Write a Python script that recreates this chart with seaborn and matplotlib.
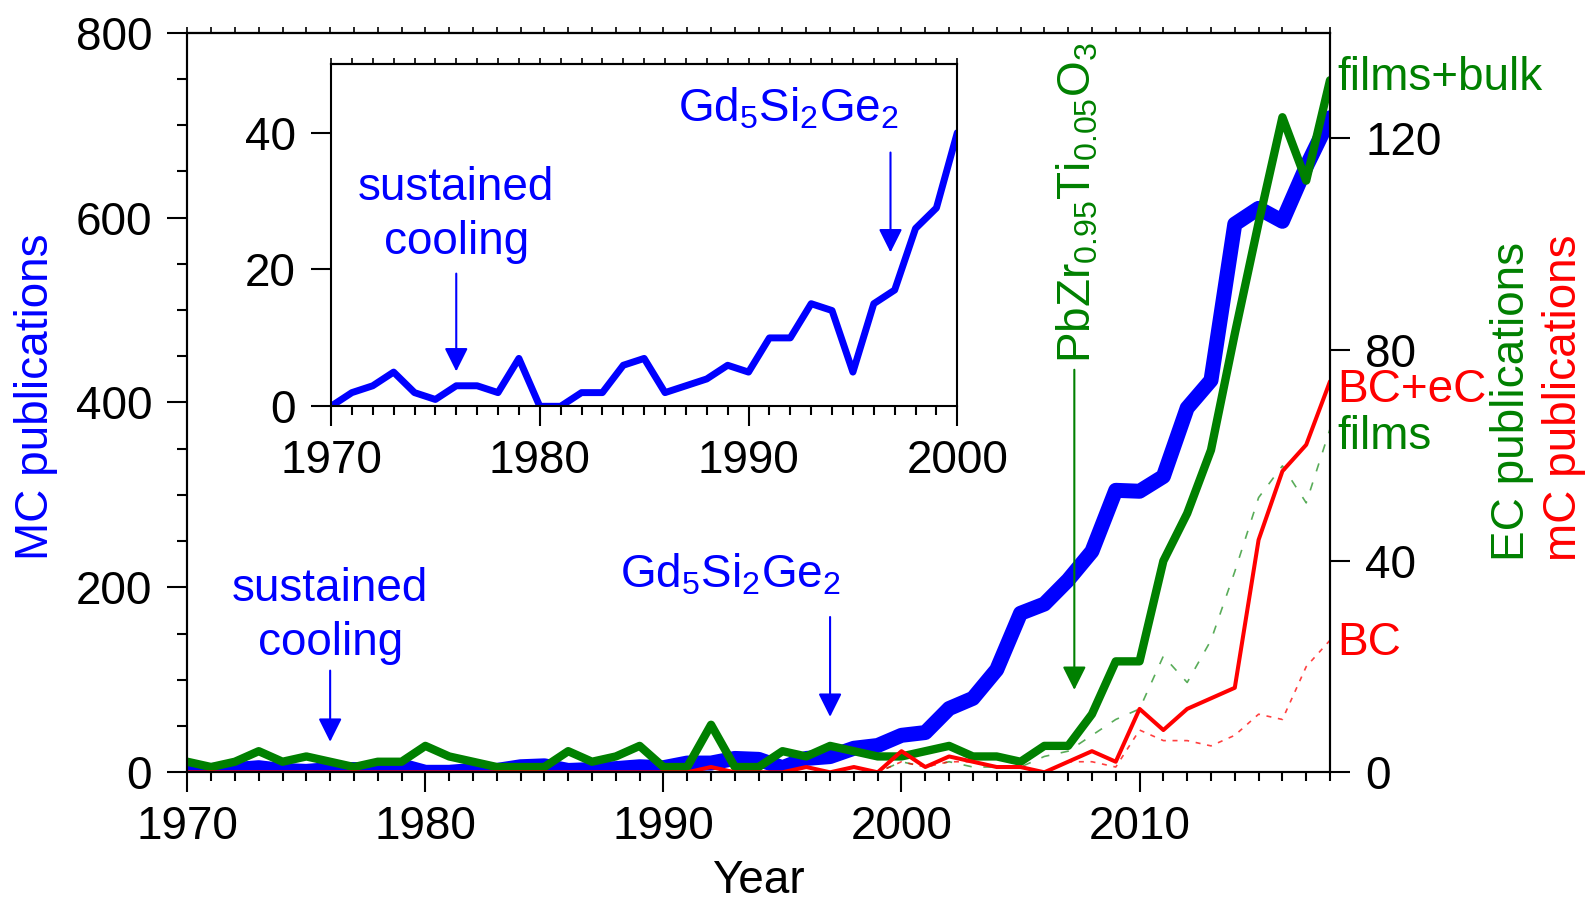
import matplotlib
matplotlib.use("Agg")
import matplotlib.pyplot as plt
import pandas as pd
import seaborn as sns
from matplotlib.ticker import MultipleLocator, FixedLocator, NullFormatter

# ---------------------------------------------------------------- data
years = list(range(1970, 2019))

# magnetocaloric (MC) publications per year, left axis
magnetocaloric = [0, 2, 3, 5, 2, 1, 3, 3, 2, 7,
                  0, 0, 2, 2, 6, 7, 2, 3, 4, 6,
                  5, 10, 10, 15, 14, 5, 15, 17, 26, 29,
                  40, 43, 69, 80, 111, 172, 182, 208, 239, 305,
                  304, 320, 394, 424, 593, 610, 596, 655, 708]

# electrocaloric (EC) publications, films + bulk, right axis
electrocaloric = [2, 1, 2, 4, 2, 3, 2, 1, 2, 2,
                  5, 3, 2, 1, 1, 1, 4, 2, 3, 5,
                  1, 1, 9, 1, 1, 4, 3, 5, 4, 3,
                  3, 4, 5, 3, 3, 2, 5, 5, 11, 21,
                  21, 40, 49, 61, 83, 104, 124, 112, 131]

# electrocaloric publications, films only
electrocaloric_films = [0, 0, 0, 0, 0, 0, 0, 0, 0, 0,
                        0, 0, 0, 0, 0, 0, 0, 0, 0, 0,
                        0, 0, 0, 0, 0, 0, 0, 0, 0, 0,
                        2, 1, 2, 1, 1, 1, 3, 4, 7, 10,
                        12, 22, 17, 25, 38, 52, 58, 51, 65]

# mechanocaloric (mC) publications, barocaloric + elastocaloric
mechanocaloric = [0, 0, 0, 0, 0, 0, 0, 0, 0, 0,
                  0, 0, 0, 0, 0, 0, 0, 0, 0, 0,
                  0, 0, 1, 0, 0, 0, 1, 0, 1, 0,
                  4, 1, 3, 2, 1, 1, 0, 2, 4, 2,
                  12, 8, 12, 14, 16, 44, 57, 62, 74]

# barocaloric (BC) publications only
barocaloric = [0, 0, 0, 0, 0, 0, 0, 0, 0, 0,
               0, 0, 0, 0, 0, 0, 0, 0, 0, 0,
               0, 0, 0, 0, 0, 0, 0, 0, 0, 0,
               2, 1, 2, 2, 1, 1, 0, 2, 2, 1,
               8, 6, 6, 5, 7, 11, 10, 20, 25]

inset_end = 2000

df = pd.DataFrame({"Year": years,
                   "MC": magnetocaloric,
                   "EC": electrocaloric,
                   "EC films": electrocaloric_films,
                   "mC": mechanocaloric,
                   "BC": barocaloric})
df_inset = df[df["Year"] <= inset_end]

# ---------------------------------------------------------------- style
sns.set_style("ticks")
plt.rcParams["font.family"] = ["Liberation Sans", "DejaVu Sans"]
plt.rcParams["mathtext.fontset"] = "custom"
plt.rcParams["mathtext.rm"] = "Liberation Sans"
plt.rcParams["mathtext.it"] = "Liberation Sans:italic"
plt.rcParams["mathtext.default"] = "regular"
for key in ("text.color", "axes.labelcolor", "axes.edgecolor",
            "xtick.color", "ytick.color", "xtick.labelcolor", "ytick.labelcolor"):
    plt.rcParams[key] = "black"

BLUE = "#0000ff"
GREEN = "#008000"
RED = "#ff0000"
FS = 33
MAJ, MIN, TW = 14.4, 6.5, 1.5

fig = plt.figure(figsize=(15.93, 9.02), dpi=100)
ax = fig.add_axes([0.11758, 0.14379, 0.71733, 0.81996])
ax2 = ax.twinx()

# ---------------------------------------------------------------- lines
sns.lineplot(data=df, x="Year", y="MC", ax=ax, color=BLUE, linewidth=10.8)
sns.lineplot(data=df, x="Year", y="EC films", ax=ax2, color=GREEN,
             linewidth=1.2, alpha=0.65, linestyle=(0, (5, 7)))
sns.lineplot(data=df, x="Year", y="BC", ax=ax2, color=RED,
             linewidth=1.2, alpha=0.75, linestyle=(0, (3, 4)))
sns.lineplot(data=df, x="Year", y="EC", ax=ax2, color=GREEN, linewidth=6)
sns.lineplot(data=df, x="Year", y="mC", ax=ax2, color=RED, linewidth=2.9)

ax.set_xlim(1970, 2018)
ax.set_ylim(0, 800)
ax2.set_ylim(0, 140)

# ---------------------------------------------------------------- axes
ax.xaxis.set_major_locator(MultipleLocator(10))
ax.xaxis.set_minor_locator(MultipleLocator(1))
ax.yaxis.set_major_locator(MultipleLocator(200))
ax.yaxis.set_minor_locator(MultipleLocator(50))
ax.tick_params(axis="both", which="major", direction="out", length=MAJ,
               width=TW, labelsize=FS, colors="black")
ax.tick_params(axis="x", which="major", pad=9)
ax.tick_params(axis="y", which="major", pad=11)
ax.tick_params(axis="x", which="minor", direction="out", length=MIN, width=TW)
ax.tick_params(axis="y", which="minor", direction="out", length=7, width=TW)

ax2.yaxis.set_major_locator(FixedLocator([0, 40, 80, 120]))
ax2.tick_params(axis="y", which="major", direction="out", length=MAJ,
                width=TW, labelsize=FS, pad=11, colors="black")

top = ax.secondary_xaxis("top")
top.xaxis.set_major_locator(MultipleLocator(1))
top.xaxis.set_major_formatter(NullFormatter())
top.tick_params(direction="out", length=4, width=1.2)

for a in (ax, ax2, top):
    for s in a.spines.values():
        s.set_linewidth(TW)
        s.set_color("black")

ax.set_ylabel("")
ax2.set_ylabel("")
ax.set_xlabel("Year", fontsize=FS)
ax.xaxis.set_label_coords(0.5, -0.117)

fig.text(0.0226, 0.56, "MC publications", color=BLUE, fontsize=FS,
         rotation=90, ha="center", va="center")
fig.text(0.949, 0.555, "EC publications", color=GREEN, fontsize=FS,
         rotation=90, ha="center", va="center")
fig.text(0.982, 0.559, "mC publications", color=RED, fontsize=FS,
         rotation=90, ha="center", va="center")

# series labels at the right end
ax2.text(2018.3, 131.4, "films+bulk", color=GREEN, fontsize=FS, ha="left", va="center")
ax2.text(2018.3, 72.4, "BC+eC", color=RED, fontsize=FS, ha="left", va="center")
ax2.text(2018.3, 63.4, "films", color=GREEN, fontsize=FS, ha="left", va="center")
ax2.text(2018.3, 24.5, "BC", color=RED, fontsize=FS, ha="left", va="center")


def arrow(a, x, y0, y1, color):
    a.annotate("", xy=(x, y1), xytext=(x, y0),
               arrowprops=dict(arrowstyle="-|>,head_length=1.0,head_width=0.5",
                               color=color, lw=1.5, shrinkA=0, shrinkB=0,
                               mutation_scale=14.4))


# annotations in the main panel
ax.text(1976, 169, "sustained\ncooling", color=BLUE, fontsize=FS,
        ha="center", va="center", linespacing=1.3)
arrow(ax, 1976, 110, 33, BLUE)
ax.text(1992.8, 200, r"Gd$_5$Si$_2$Ge$_2$", color=BLUE, fontsize=FS,
        ha="center", va="baseline")
arrow(ax, 1997, 168, 60, BLUE)
ax2.text(2007.42, 77.5, r"PbZr$_{0.95}$Ti$_{0.05}$O$_3$", color=GREEN,
         fontsize=FS, rotation=90, ha="center", va="bottom")
arrow(ax2, 2007.26, 76.2, 15.6, GREEN)

# ---------------------------------------------------------------- inset
axi = fig.add_axes([0.20778, 0.54956, 0.39316, 0.37916])
axi.set_facecolor("white")
sns.lineplot(data=df_inset, x="Year", y="MC", ax=axi, color=BLUE, linewidth=5)
axi.set_xlim(1970, 2000)
axi.set_ylim(0, 50)
axi.xaxis.set_major_locator(MultipleLocator(10))
axi.xaxis.set_minor_locator(MultipleLocator(1))
axi.yaxis.set_major_locator(FixedLocator([0, 20, 40]))
axi.tick_params(axis="both", which="major", direction="out", length=MAJ,
                width=TW, labelsize=FS, colors="black")
axi.tick_params(axis="x", which="major", pad=9)
axi.tick_params(axis="y", which="major", pad=11)
axi.tick_params(axis="x", which="minor", direction="out", length=MIN, width=TW)
itop = axi.secondary_xaxis("top")
itop.xaxis.set_major_locator(MultipleLocator(1))
itop.xaxis.set_major_formatter(NullFormatter())
itop.tick_params(direction="out", length=4, width=1.2)
for a in (axi, itop):
    for s in a.spines.values():
        s.set_linewidth(TW)
        s.set_color("black")
axi.set_xlabel("")
axi.set_ylabel("")

axi.text(1976, 28.0, "sustained\ncooling", color=BLUE, fontsize=FS,
         ha="center", va="center", linespacing=1.3)
arrow(axi, 1976, 19.4, 5.1, BLUE)
axi.text(1991.9, 41.7, r"Gd$_5$Si$_2$Ge$_2$", color=BLUE, fontsize=FS,
         ha="center", va="baseline")
arrow(axi, 1996.8, 37.1, 22.5, BLUE)

fig.savefig("out.png", dpi=100)
